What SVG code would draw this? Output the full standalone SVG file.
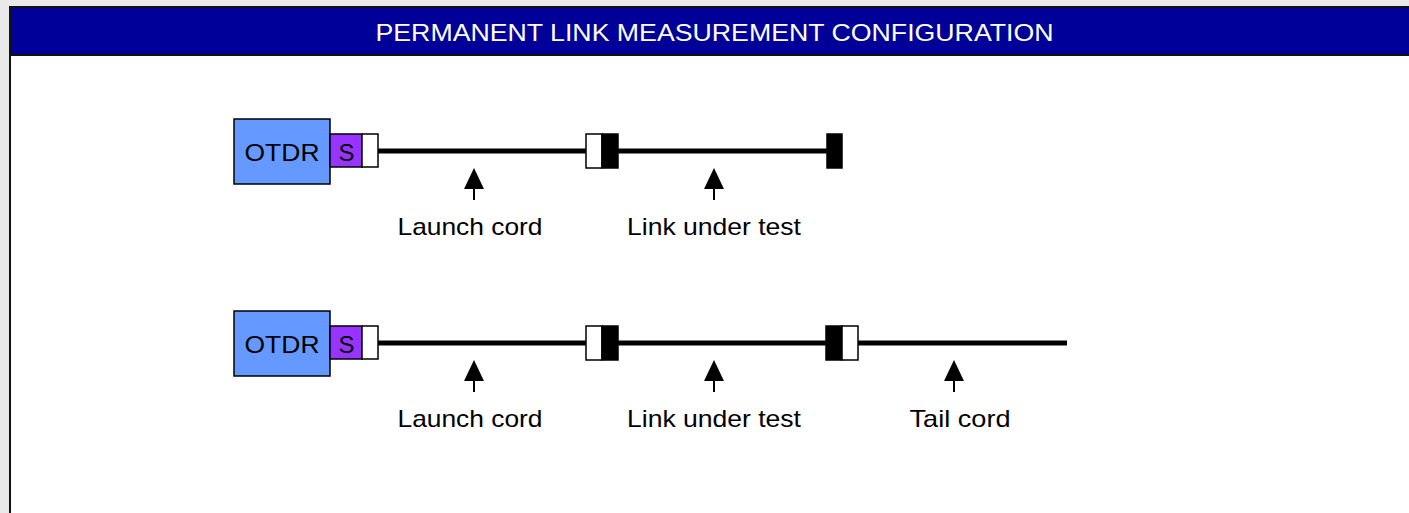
<svg xmlns="http://www.w3.org/2000/svg" width="1409" height="513" viewBox="0 0 1409 513">
<style>
text{font-family:"Liberation Sans",Arial,sans-serif;font-size:24px}
.lbl{fill:#000;text-anchor:middle}
.fiber{stroke:#000;stroke-width:5;fill:none}
.otdr{fill:#6699ff;stroke:#000;stroke-width:1.5}
.s{fill:#9933ff;stroke:#000;stroke-width:1.5}
.cw{fill:#fff;stroke:#000;stroke-width:1.5}
.cb{fill:#000;stroke:#000;stroke-width:1.5}
.stem{stroke:#000;stroke-width:2}
</style>
<defs>
<g id="arrow"><path d="M0,0 L10,21 L-10,21 Z" fill="#000"/><line x1="0" y1="20" x2="0" y2="32" class="stem"/></g>
</defs>
<rect x="0" y="0" width="1409" height="513" fill="#e9e9e9"/>
<rect x="10" y="7" width="1420" height="520" fill="#fff" stroke="#111" stroke-width="2"/>
<rect x="10" y="7" width="1420" height="48" fill="#000099" stroke="#111" stroke-width="2"/>
<text x="714.5" y="40.5" fill="#fff" text-anchor="middle" textLength="678" lengthAdjust="spacingAndGlyphs">PERMANENT LINK MEASUREMENT CONFIGURATION</text>

<g id="connectors">
<line class="fiber" x1="378" y1="151" x2="587" y2="151"/>
<line class="fiber" x1="618" y1="151" x2="827" y2="151"/>
<line class="fiber" x1="378" y1="343" x2="587" y2="343"/>
<line class="fiber" x1="618" y1="343" x2="827" y2="343"/>
<line class="fiber" x1="857" y1="343" x2="1067" y2="343"/>
</g>

<g id="otdr1">
<rect class="otdr" x="234" y="119" width="96" height="65"/>
<text class="lbl" x="282" y="160.5" textLength="75" lengthAdjust="spacingAndGlyphs">OTDR</text>
<rect class="s" x="330" y="134" width="32" height="33"/>
<text class="lbl" x="346.5" y="160.5">S</text>
<rect class="cw" x="362" y="134" width="16" height="33"/>
</g>
<g id="conn1">
<rect class="cw" x="586" y="134" width="16" height="34"/>
<rect class="cb" x="602" y="134" width="16" height="34"/>
</g>
<g id="end1">
<rect class="cb" x="827" y="134" width="15" height="34"/>
</g>
<g id="labels1">
<use href="#arrow" x="474" y="168"/>
<text class="lbl" x="470" y="235" textLength="145" lengthAdjust="spacingAndGlyphs">Launch cord</text>
<use href="#arrow" x="714" y="168"/>
<text class="lbl" x="714" y="235" textLength="174" lengthAdjust="spacingAndGlyphs">Link under test</text>
</g>

<g id="otdr2">
<rect class="otdr" x="234" y="311" width="96" height="65"/>
<text class="lbl" x="282" y="352.5" textLength="75" lengthAdjust="spacingAndGlyphs">OTDR</text>
<rect class="s" x="330" y="326" width="32" height="33"/>
<text class="lbl" x="346.5" y="352.5">S</text>
<rect class="cw" x="362" y="326" width="16" height="33"/>
</g>
<g id="conn2">
<rect class="cw" x="586" y="326" width="16" height="34"/>
<rect class="cb" x="602" y="326" width="16" height="34"/>
</g>
<g id="conn3">
<rect class="cb" x="826" y="326" width="16" height="34"/>
<rect class="cw" x="842" y="326" width="16" height="34"/>
</g>
<g id="labels2">
<use href="#arrow" x="474" y="360"/>
<text class="lbl" x="470" y="427" textLength="145" lengthAdjust="spacingAndGlyphs">Launch cord</text>
<use href="#arrow" x="714" y="360"/>
<text class="lbl" x="714" y="427" textLength="174" lengthAdjust="spacingAndGlyphs">Link under test</text>
<use href="#arrow" x="954" y="360"/>
<text class="lbl" x="960" y="427" textLength="101" lengthAdjust="spacingAndGlyphs">Tail cord</text>
</g>
</svg>
